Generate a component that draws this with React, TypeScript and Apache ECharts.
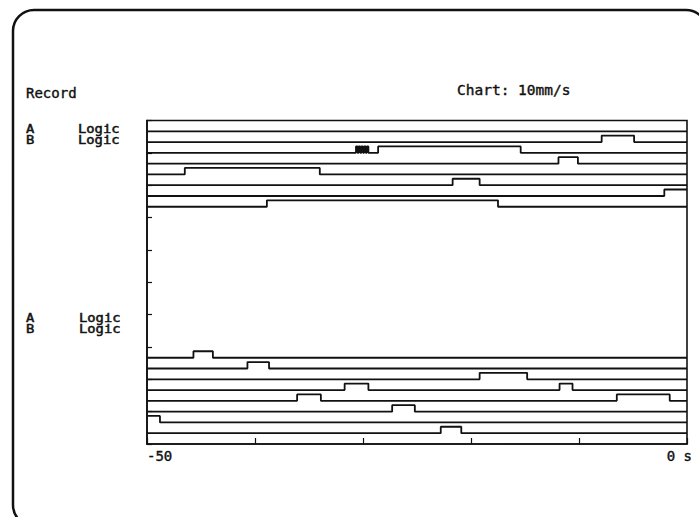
import React, { useEffect, useRef } from "react";
import * as echarts from "echarts";

// Time window of the recorder strip (seconds before now)
const timeMin = -50;
const timeMax = 0;
const timeStep = 10;

// Toggle times (s) for each logic trace of the upper block, top trace first
const upperEdges: number[][] = [
  [],
  [-7.9, -4.9],
  [-30.65, -30.5, -30.4, -30.25, -30.15, -30.0, -29.9, -29.75, -29.65, -29.5, -28.6, -15.4],
  [-11.9, -10.1],
  [-46.5, -34.0],
  [-21.7, -19.2],
  [-2.1],
  [-38.9, -17.5],
];
// Initial state (0 = low, 1 = high) of the upper traces
const upperStart: number[] = [0, 0, 0, 0, 0, 0, 0, 0];

// Toggle times (s) for each logic trace of the lower block, top trace first
const lowerEdges: number[][] = [
  [-45.7, -43.9],
  [-40.7, -38.7],
  [-19.2, -14.8],
  [-31.7, -29.5, -11.8, -10.6],
  [-36.1, -33.9, -6.5, -1.6],
  [-27.3, -25.2],
  [-48.8],
  [-22.8, -20.9],
];
const lowerStart: number[] = [0, 0, 0, 0, 0, 0, 1, 0];

// Header texts
const titleText = "Record";
const speedText = "Chart: 10mm/s";
const channelLabels = ["A", "B"];
const channelKind = "Logic";

const INK = "#111";
const MONO = "DejaVu Sans Mono";
const PULSE = 0.6; // height of a logic "high" in trace units
const UPPER_TOP = 29;
const LOWER_TOP = 8;

function stepData(base: number, start: number, edges: number[]) {
  let state = start;
  const pts: number[][] = [[timeMin, base + state * PULSE]];
  for (const t of edges) {
    state = 1 - state;
    pts.push([t, base + state * PULSE]);
  }
  pts.push([timeMax, base + state * PULSE]);
  return pts;
}

function traceSeries(base: number, start: number, edges: number[]) {
  return {
    type: "line",
    step: "end",
    symbol: "none",
    silent: true,
    data: stepData(base, start, edges),
    lineStyle: { color: INK, width: 1.8 },
  };
}

export default function App() {
  const ref = useRef<HTMLDivElement>(null);

  useEffect(() => {
    if (!ref.current) return;
    const chart = echarts.init(ref.current, undefined, { renderer: "svg" });

    const series: any[] = [];
    upperEdges.forEach((e, i) => series.push(traceSeries(UPPER_TOP - i, upperStart[i], e)));
    lowerEdges.forEach((e, i) => series.push(traceSeries(LOWER_TOP - i, lowerStart[i], e)));

    const labelText = (x: number, y: number, text: string) => ({
      type: "text",
      x,
      y,
      scaleX: 1.15,
      silent: true,
      style: {
        text,
        font: `12px ${MONO}`,
        fill: INK,
        stroke: INK,
        lineWidth: 0.5,
        verticalAlign: "middle",
        align: "left",
      },
    });

    chart.setOption({
      animation: false,
      backgroundColor: "#fff",
      grid: {
        left: 147,
        right: 12,
        top: 120.5,
        bottom: 73,
        show: true,
        borderColor: INK,
        borderWidth: 1.6,
      },
      xAxis: {
        type: "value",
        min: timeMin,
        max: timeMax,
        interval: timeStep,
        axisLine: { onZero: false, lineStyle: { color: INK, width: 1.6 } },
        axisTick: { inside: true, length: 6, lineStyle: { color: INK, width: 1.2 } },
        splitLine: { show: false },
        axisLabel: {
          margin: 5,
          color: INK,
          fontFamily: MONO,
          fontSize: 14,
          textBorderColor: INK,
          textBorderWidth: 0.4,
          alignMinLabel: "left",
          alignMaxLabel: "right",
          formatter: (v: number) =>
            v === timeMin ? String(v) : v === timeMax ? `{end|${v} s}` : "",
          rich: {
            end: {
              fontFamily: MONO,
              fontSize: 14,
              color: INK,
              padding: [0, -5, 0, 0],
            },
          },
        },
      },
      yAxis: {
        type: "value",
        min: 0,
        max: 30,
        interval: 3,
        axisLine: { show: true, onZero: false, lineStyle: { color: INK, width: 1.6 } },
        axisTick: { show: true, inside: true, length: 5, lineStyle: { color: INK, width: 1.2 } },
        axisLabel: { show: false },
        splitLine: { show: false },
      },
      graphic: [
        {
          type: "rect",
          silent: true,
          shape: { x: 13, y: 10, width: 694, height: 516, r: 21 },
          style: { fill: "none", stroke: INK, lineWidth: 2.5 },
        },
        {
          type: "text",
          x: 26,
          y: 93,
          silent: true,
          style: {
            text: titleText,
            font: `14px ${MONO}`,
            fill: INK,
            stroke: INK,
            lineWidth: 0.4,
            verticalAlign: "middle",
          },
        },
        {
          type: "text",
          x: 457,
          y: 90,
          silent: true,
          style: {
            text: speedText,
            font: `14.5px ${MONO}`,
            fill: INK,
            stroke: INK,
            lineWidth: 0.4,
            verticalAlign: "middle",
          },
        },
        labelText(26, 129, channelLabels[0]),
        labelText(78, 129, channelKind),
        labelText(26, 140, channelLabels[1]),
        labelText(78, 140, channelKind),
        labelText(26, 318, channelLabels[0]),
        labelText(79, 318, channelKind),
        labelText(26, 329, channelLabels[1]),
        labelText(79, 329, channelKind),
      ],
      series,
    });

    return () => chart.dispose();
  }, []);

  return (
    <div
      ref={ref}
      style={{ position: "fixed", left: 0, top: 0, width: 699, height: 517, background: "#fff" }}
    />
  );
}
